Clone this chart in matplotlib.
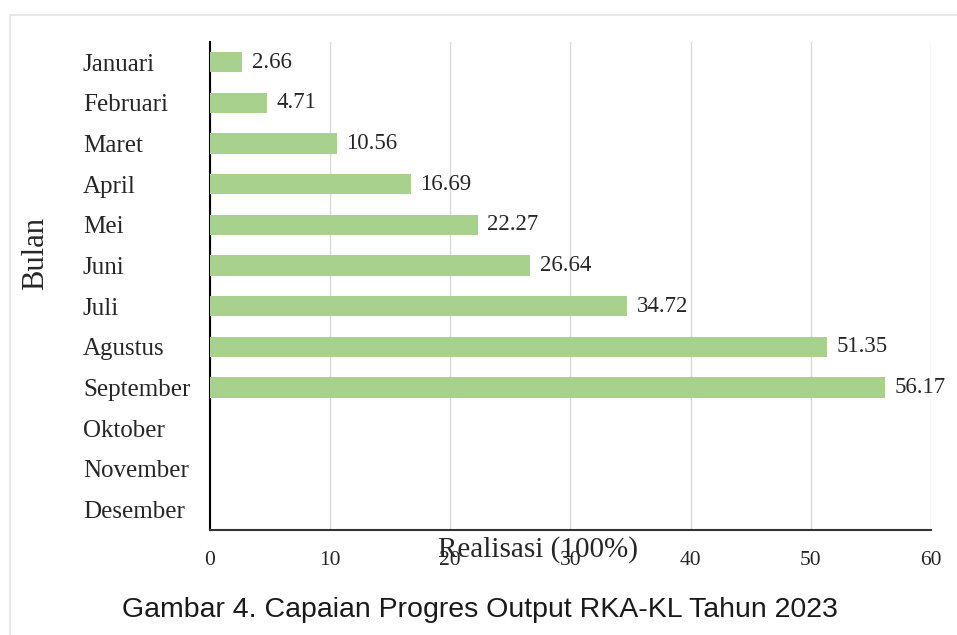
import matplotlib.pyplot as plt
from matplotlib.patches import Rectangle

bulan = ['Januari', 'Februari', 'Maret', 'April', 'Mei', 'Juni', 'Juli',
         'Agustus', 'September', 'Oktober', 'November', 'Desember']
realisasi = [2.66, 4.71, 10.56, 16.69, 22.27, 26.64, 34.72, 51.35, 56.17]
x_ticks = [0, 10, 20, 30, 40, 50, 60]

serif = 'Liberation Serif'

fig = plt.figure(figsize=(9.57, 6.35), dpi=100)
ax = fig.add_axes([0.2194, 0.1654, 0.7534, 0.7685])

# light frame around the chart area
fig.patches.append(Rectangle((10 / 957, -0.01), 1.0, 1 - 15 / 635 + 0.01,
                             transform=fig.transFigure, fill=False,
                             edgecolor='#e3e3e3', lw=1.2))

ypos = list(range(len(bulan)))
ax.barh(ypos[:len(realisasi)], realisasi, height=0.5, color='#a9d18e', zorder=3)
for y, v in zip(ypos, realisasi):
    ax.text(v + 0.8, y, f'{v:.2f}', va='center', ha='left',
            fontsize=16.5, family=serif, color='#262626')

ax.set_yticks(ypos)
ax.set_yticklabels(bulan, fontsize=18, family=serif, color='#262626', ha='left')
ax.set_ylim(len(bulan) - 0.5, -0.5)
ax.set_xlim(0, 60)
ax.set_xticks(x_ticks)
ax.set_xticklabels([str(t) for t in x_ticks], fontsize=15.5, family=serif, color='#262626')
ax.tick_params(axis='both', length=0)
ax.tick_params(axis='x', pad=15)
ax.tick_params(axis='y', pad=(210 - 83) * 0.72)

ax.grid(axis='x', color='#d9d9d9', lw=1, zorder=0)
for s in ['top', 'right']:
    ax.spines[s].set_visible(False)
ax.spines['left'].set_color('#000000')
ax.spines['left'].set_linewidth(1.5)
ax.spines['bottom'].set_color('#333333')
ax.spines['bottom'].set_linewidth(1.5)

# axis titles as placed in the original (x title overlaps the tick labels)
fig.text(538 / 957, 1 - 550 / 635, 'Realisasi (100%)', ha='center', va='center',
         fontsize=21, family=serif, color='#262626')
fig.text(36 / 957, 1 - 253 / 635, 'Bulan', ha='center', va='center', rotation=90,
         fontsize=22, family=serif, color='#262626')

fig.text(480 / 957, 1 - 610 / 635, 'Gambar 4. Capaian Progres Output RKA-KL Tahun 2023',
         ha='center', va='center', fontsize=20.5, family='Liberation Sans', color='#1a1a1a')

fig.savefig('out.png', dpi=100)
